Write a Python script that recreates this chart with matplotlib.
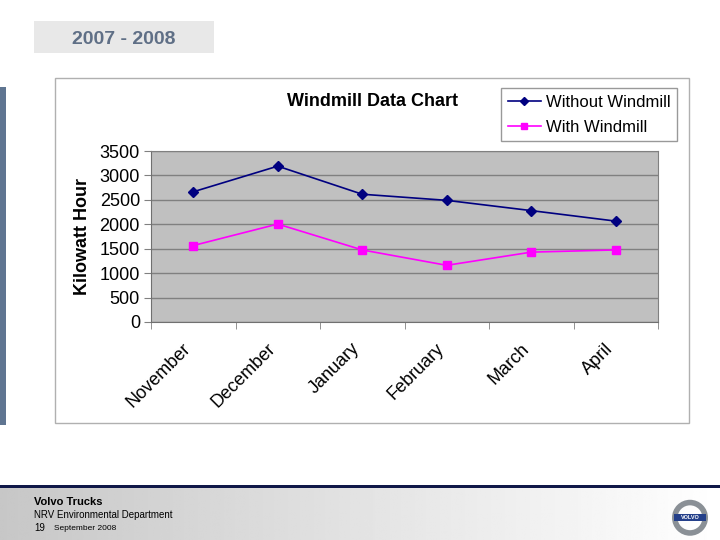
import matplotlib
matplotlib.use('Agg')

import numpy as np
import matplotlib.pyplot as plt
from matplotlib.patches import Rectangle, Circle
from matplotlib.transforms import ScaledTranslation

plt.rcParams['font.family'] = ['Liberation Sans', 'DejaVu Sans']

months = ["November", "December", "January", "February", "March", "April"]
without_windmill = [2665, 3190, 2615, 2490, 2280, 2065]
with_windmill = [1565, 2005, 1475, 1160, 1430, 1475]
yticks = [0, 500, 1000, 1500, 2000, 2500, 3000, 3500]

W, H = 720., 540.


def fx(px):
    return px / W


def fy(py):
    return 1 - py / H


fig = plt.figure(figsize=(7.2, 5.4), dpi=100)

# slide decorations
fig.patches.append(Rectangle((fx(34), fy(53)), fx(180), 32 / H, transform=fig.transFigure,
                             facecolor="#e8e8e8", edgecolor="none"))
fig.text(fx(124), fy(39), "2007 - 2008", ha="center", va="center", fontsize=14,
         fontweight="bold", color="#5f6f86")
fig.patches.append(Rectangle((0, fy(425)), fx(6), 338 / H, transform=fig.transFigure,
                             facecolor="#5f7591", edgecolor="none"))

# chart frame
fig.patches.append(Rectangle((fx(55), fy(423)), fx(634), 345 / H, transform=fig.transFigure,
                             facecolor="white", edgecolor="#b0b0b0", linewidth=1, zorder=-1))

# footer
fig.patches.append(Rectangle((0, fy(488)), 1, 3 / H, transform=fig.transFigure,
                             facecolor="#101848", edgecolor="none"))
gax = fig.add_axes([0, 0, 1, fy(488)])
grad = np.linspace(0.78, 1.0, 256).reshape(1, -1)
gax.imshow(grad, aspect="auto", cmap="gray", vmin=0, vmax=1, extent=[0, 1, 0, 1])
gax.axis("off")
fig.text(fx(34), fy(502), "Volvo Trucks", fontsize=8, fontweight="bold", va="center")
fig.text(fx(34), fy(515), "NRV Environmental Department", fontsize=7, va="center")
fig.text(fx(34), fy(528), "19", fontsize=7, va="center")
fig.text(fx(54), fy(528), "September 2008", fontsize=6, va="center")

lax = fig.add_axes([fx(671), fy(537), fx(38), 40 / H])
lax.set_xlim(0, 1)
lax.set_ylim(0, 1)
lax.set_aspect("equal")
lax.axis("off")
lax.add_patch(Circle((0.5, 0.48), 0.4, facecolor="none", edgecolor="#8a9096", linewidth=4))
lax.add_patch(Rectangle((0.08, 0.39), 0.84, 0.18, facecolor="#24408a", edgecolor="none"))
lax.text(0.5, 0.48, "VOLVO", fontsize=4, color="white", ha="center", va="center", fontweight="bold")

# main chart
ax = fig.add_axes([fx(151), fy(322), fx(507), 171 / H])
ax.set_zorder(3)
x = np.arange(len(months))
ax.plot(x, without_windmill, color="#000080", marker="D", markersize=5.5, linewidth=1.2,
        label="Without Windmill")
ax.plot(x, with_windmill, color="#ff00ff", marker="s", markersize=5.5, linewidth=1.2,
        label="With Windmill")
ax.set_facecolor("#c0c0c0")
ax.set_xlim(-0.5, len(months) - 0.5)
ax.set_ylim(0, 3500)
ax.set_yticks(yticks)
ax.set_yticklabels([str(v) for v in yticks], fontsize=13)
ax.yaxis.grid(True, color="#808080", linewidth=1)
ax.set_axisbelow(True)
ax.set_xticks(x)
ax.set_xticklabels(months, rotation=45, ha="right", rotation_mode="anchor", fontsize=13)
ax.set_xticks(np.arange(-0.5, len(months)), minor=True)
ax.tick_params(axis="x", which="major", length=0, pad=13)
ax.tick_params(axis="x", which="minor", length=5, color="#808080")
ax.tick_params(axis="y", length=5, color="#808080", pad=3)
# nudge month labels left so their ends sit just left of each category
shift = ScaledTranslation(-0.11, 0, fig.dpi_scale_trans)
for lbl in ax.get_xticklabels():
    lbl.set_transform(lbl.get_transform() + shift)
for side in ("top", "right"):
    ax.spines[side].set_color("#808080")
for side in ("left", "bottom"):
    ax.spines[side].set_color("#707070")
ax.set_ylabel("Kilowatt Hour", fontsize=13, fontweight="bold", labelpad=6)

fig.text(fx(372), fy(102), "Windmill Data Chart", fontsize=13, fontweight="bold",
         ha="center", va="center")
ax.legend(loc="upper left", bbox_to_anchor=(fx(501), fy(88)), bbox_transform=fig.transFigure,
          fontsize=12, frameon=True, fancybox=False, edgecolor="#808080", borderaxespad=0,
          handlelength=2.0, handletextpad=0.3, labelspacing=0.6, markerscale=0.8,
          borderpad=0.4)

plt.savefig("out.png", dpi=100)
plt.close()
